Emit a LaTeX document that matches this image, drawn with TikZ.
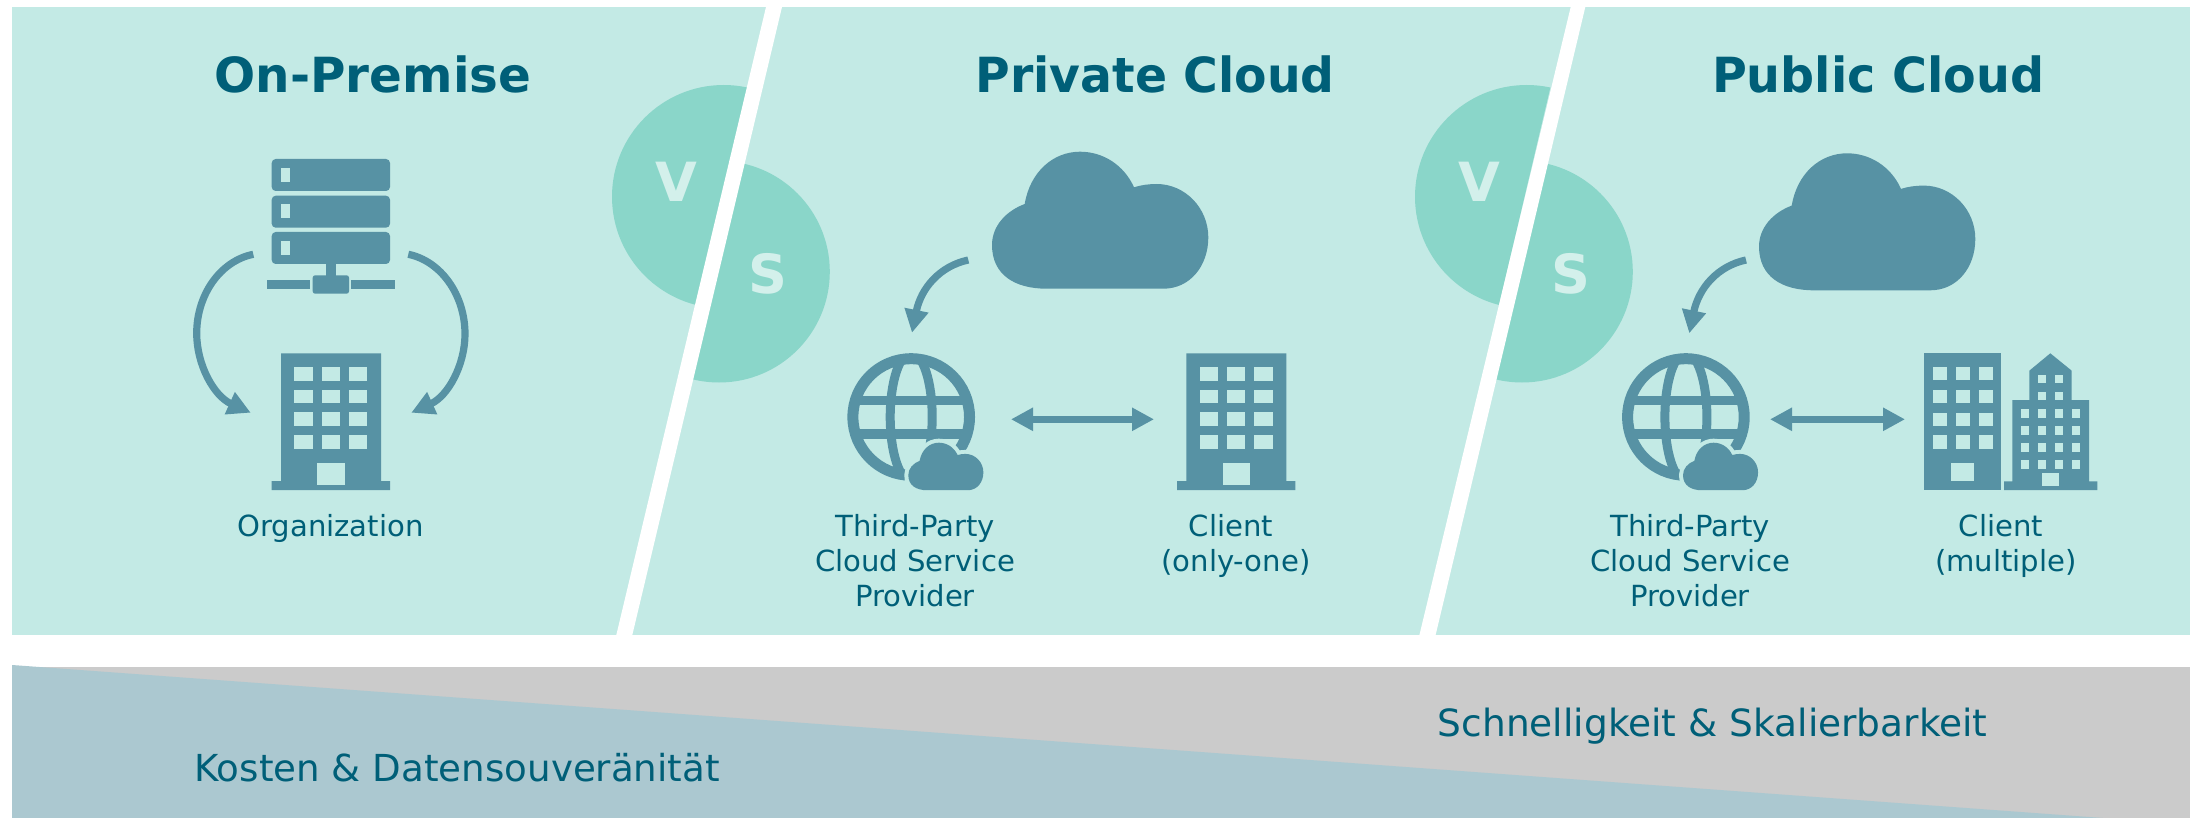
\documentclass[tikz,border=0pt]{standalone}
\usepackage{fontspec}
\setmainfont{DejaVu Sans}
\usetikzlibrary{arrows.meta}
\definecolor{panel}{HTML}{C3EAE5}
\definecolor{disc}{HTML}{8AD6C9}
\definecolor{letter}{HTML}{D3F0EB}
\definecolor{icon}{HTML}{5792A4}
\definecolor{ink}{HTML}{005F78}
\definecolor{wedge}{HTML}{ABC8D0}
\definecolor{greyband}{HTML}{CBCBCB}
\tikzset{
  x=0.5pt,y=-0.5pt,
  arc arrow/.style={draw=icon,line width=3.6pt,-{Triangle[length=11.5pt,width=11.5pt]}},
  both arrow/.style={draw=icon,line width=3.8pt,{Triangle[length=11pt,width=11pt]}-{Triangle[length=11pt,width=11pt]}},
  titletext/.style={text=ink,font=\fontsize{24.2}{29}\selectfont\bfseries,anchor=base,inner sep=0pt},
  labeltext/.style={text=ink,font=\fontsize{14.55}{17.65}\selectfont,anchor=north,align=center,inner sep=0pt},
  bandtext/.style={text=ink,font=\fontsize{18.6}{22}\selectfont,anchor=base west,inner sep=0pt},
  vstext/.style={text=letter,font=\fontsize{27}{32}\selectfont\bfseries,inner sep=0pt},
}
% cloud, local origin = left/top of its box (216.3 x 137)
\newcommand{\cloudpath}{(32.7,52.3) .. controls (38,20.3) and (61,0) .. (88,0) .. controls (111,0) and (132,13.3) .. (142,35.6) .. controls (149,33.3) and (157,32.3) .. (164.7,32.3) .. controls (193,32.3) and (216.3,56.3) .. (216.3,85.6) .. controls (216.3,114.3) and (198,137) .. (171.3,137) -- (54.7,137) .. controls (23,137) and (0,123.3) .. (0,93.3) .. controls (0,74.3) and (14,59.3) .. (32.7,52.3) -- cycle}
% office building
\newcommand{\officeicon}[1]{\begin{scope}[xshift=#1*0.5pt]
  \fill[icon] (281,353.3) -- (381,353.3) -- (381,481) -- (390,481) -- (390,490) -- (271.7,490) -- (271.7,481) -- (281,481) -- cycle;
  \foreach \wx in {294.3,321.7,349}{\foreach \wy in {367,389.7,412.3,435}{
    \fill[panel] (\wx,\wy) rectangle ++(18.4,13.7);}}
  \fill[panel] (317.3,462.7) rectangle (344.7,485.3);
\end{scope}}
% globe with small cloud
\newcommand{\globeicon}[1]{\begin{scope}[xshift=#1*0.5pt]
  \begin{scope}
    \clip (911.2,417) circle[radius=60];
    \draw[icon,line width=4.5pt] (911.2,417) circle[x radius=21,y radius=64];
  \end{scope}
  \draw[icon,line width=5.5pt] (911.2,417) circle[radius=58.3];
  \fill[icon] (858,395.7) rectangle (965,404.7);
  \fill[icon] (858,429.3) rectangle (965,438.7);
  \begin{scope}[shift={(908.3,442.7)},scale=0.347]
    \draw[panel,line width=4pt,fill=panel] \cloudpath;
    \fill[icon] \cloudpath;
  \end{scope}
\end{scope}}
\begin{document}
\begin{tikzpicture}
\useasboundingbox (0,0) rectangle (2199,818);
\fill[white] (0,0) rectangle (2199,818);
% panels
\fill[panel] (12,7) rectangle (2190,635);
% V/S discs, split along the slashes
\foreach \dx in {0,803}{
  \begin{scope}[xshift=\dx*0.5pt]
    \begin{scope}
      \clip (0,0) -- (768,0) -- (618,635) -- (0,635) -- cycle;
      \fill[disc] (723.7,196.7) circle[radius=111.7];
    \end{scope}
    \begin{scope}
      \clip (780,0) -- (1000,0) -- (1000,635) -- (630,635) -- cycle;
      \fill[disc] (719,271.7) circle[radius=110.8];
    \end{scope}
    \node[vstext] (v\dx) at (676.5,182) {V};
    \node[vstext] (s\dx) at (768,274) {S};
  \end{scope}
}
% slashes
\fill[white] (766,7) -- (782,7) -- (632.3,635) -- (616.3,635) -- cycle;
\fill[white] (1570.7,7) -- (1585.3,7) -- (1435.6,635) -- (1419.4,635) -- cycle;
% bottom band
\fill[greyband] (12,667) rectangle (2190,818);
\fill[wedge] (12,665) -- (2103,818) -- (12,818) -- cycle;
% titles
\node[titletext] (t1) at (373,93) {On-Premise};
\node[titletext] (t2) at (1155,93) {\scalebox{0.977}[1]{Private Cloud}};
\node[titletext] (t3) at (1878,93) {\scalebox{0.983}[1]{Public Cloud}};
% server
\foreach \ry/\wy in {159/168,195.7/204.3,232/241}{
  \fill[icon,rounded corners=2pt] (271.7,\ry) rectangle (390,\ry+32);
  \fill[panel] (281,\wy) rectangle (290,\wy+14);
}
\fill[icon] (326,263) rectangle (335.7,276);
\fill[icon,rounded corners=1.2pt] (312.7,275.3) rectangle (349,293.7);
\fill[icon] (267,280) rectangle (310,289);
\fill[icon] (351.3,280) rectangle (394.7,289);
% buildings
\officeicon{0}
\officeicon{905.3}
% building group client (multiple)
\fill[icon] (1924.3,353.3) rectangle (2001.3,490);
\foreach \wx in {1933,1956,1978.7}{\foreach \wy in {366.7,389.7,412.7,435.3}{
  \fill[panel] (\wx,\wy) rectangle ++(13.8,13.7);}}
\fill[panel] (1951.3,462.7) rectangle (1974,480.7);
\fill[icon] (2050.3,353.3) -- (2071.7,370.7) -- (2071.7,400) -- (2089,400) -- (2089,481.3) -- (2097.3,481.3) -- (2097.3,490) -- (2004,490) -- (2004,481.3) -- (2012.3,481.3) -- (2012.3,400) -- (2029.3,400) -- (2029.3,370.7) -- cycle;
\foreach \wx in {2020.7,2037.7,2054.7,2071.7}{\foreach \wy in {409,426,443,460}{
  \fill[panel] (\wx,\wy) rectangle ++(8.7,8.7);}}
\foreach \wx in {2037.7,2054.7}{\foreach \wy in {374.7,391.7}{
  \fill[panel] (\wx,\wy) rectangle ++(8.7,8.7);}}
\fill[panel] (2042,473) rectangle (2059,485.7);
% clouds
\begin{scope}[shift={(992,151.7)}]\fill[icon] \cloudpath;\end{scope}
\begin{scope}[shift={(1759,153.3)}]\fill[icon] \cloudpath;\end{scope}
% globes
\globeicon{0}
\globeicon{774.7}
% labels (anchor north: first baseline at y=535.5)
\node[labeltext] (org) at (330.5,513.5) {Organization};
\node[labeltext] (tp1) at (915,513.5) {Third-Party\\Cloud Service\\Provider};
\node[labeltext] (cl1) at (1236,513.5) {Client\hspace*{5pt}\\(only-one)};
\node[labeltext] (tp2) at (1690,513.5) {Third-Party\\Cloud Service\\Provider};
\node[labeltext] (cl2) at (2006,513.5) {Client\hspace*{5pt}\\(multiple)};
% band text
\node[bandtext] (b1) at (194,781) {Kosten \& Datensouveränität};
\node[bandtext,font=\fontsize{18.75}{22}\selectfont] (b2) at (1437.5,736.7) {Schnelligkeit \& Skalierbarkeit};
% connectors
\coordinate (srvL) at (253.3,254.3);
\coordinate (orgL) at (250.7,412.7);
\coordinate (srvR) at (408.3,254.3);
\coordinate (orgR) at (411.3,412.7);
\draw[arc arrow] (srvL) .. controls (220,261) and (196.7,295) .. (196.7,333.3) .. controls (196.7,365) and (214,396) .. (orgL);
\draw[arc arrow] (srvR) .. controls (441,261) and (465,295) .. (465,334) .. controls (465,365) and (448,396) .. (orgR);
\coordinate (cld1) at (968.3,260);
\coordinate (glb1) at (912,332.7);
\coordinate (cld2) at (1746,260);
\coordinate (glb2) at (1689.3,333.3);
\draw[arc arrow] (cld1) .. controls (940,266) and (921,288) .. (glb1);
\draw[arc arrow] (cld2) .. controls (1717.7,266) and (1698.7,288) .. (glb2);
\coordinate (a1) at (1011,419.3);
\coordinate (a2) at (1154,419.3);
\coordinate (a3) at (1770,419.3);
\coordinate (a4) at (1905,419.3);
\draw[both arrow] (a1) -- (a2);
\draw[both arrow] (a3) -- (a4);
\end{tikzpicture}
\end{document}
